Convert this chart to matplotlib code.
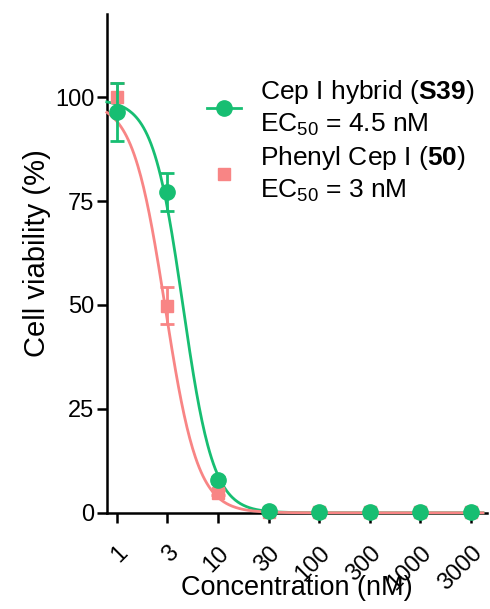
import numpy as np
import matplotlib
matplotlib.use('Agg')
import matplotlib.pyplot as plt
from matplotlib.lines import Line2D

plt.rcParams['font.family'] = ['Liberation Sans', 'DejaVu Sans']
plt.rcParams['mathtext.fontset'] = 'custom'
plt.rcParams['mathtext.rm'] = 'Liberation Sans'
plt.rcParams['mathtext.bf'] = 'Liberation Sans:bold'

# concentrations (nM) as labelled, plotted on half-decade steps
conc_labels = ['1', '3', '10', '30', '100', '300', '1000', '3000']
conc = [1, 3.16, 10, 31.6, 100, 316, 1000, 3162]

hybrid_mean = [96.5, 77.2, 7.9, 0.5, 0.2, 0.1, 0.1, 0.1]
hybrid_err = [7.0, 4.5, 0.8, 0.3, 0.2, 0.1, 0.1, 0.1]
phenyl_mean = [100.0, 49.8, 4.8, 0.3, 0.1, 0.1, 0.1, 0.1]
phenyl_err = [3.5, 4.5, 0.6, 0.2, 0.1, 0.1, 0.1, 0.1]

# fitted dose-response parameters (top, EC50, Hill slope)
hybrid_fit = (99.5, 4.5, 2.9)
phenyl_fit = (99.0, 3.0, 2.7)

green = '#17BE72'
pink = '#F88585'

fig = plt.figure(figsize=(4.9, 6.09), dpi=100)
ax = fig.add_axes([0.218, 0.158, 0.776, 0.819])

xs = np.logspace(-0.1, 3.62, 400)
def hill(x, p):
    top, ec50, h = p
    return top / (1 + (x / ec50) ** h)

ax.plot(xs, hill(xs, hybrid_fit), color=green, lw=2, zorder=3, clip_on=False)
ax.plot(xs, hill(xs, phenyl_fit), color=pink, lw=2, zorder=4, clip_on=False)

ax.errorbar(conc, phenyl_mean, yerr=phenyl_err, fmt='s', color=pink, ms=8.5,
            elinewidth=2, capsize=5, capthick=2, zorder=5, clip_on=False)
ax.errorbar(conc, hybrid_mean, yerr=hybrid_err, fmt='o', color=green, ms=11,
            elinewidth=2, capsize=5, capthick=2, zorder=6, clip_on=False)

ax.set_xscale('log')
ax.set_xlim(10 ** -0.1, 10 ** 3.66)
ax.set_ylim(0, 120)
ax.set_xticks(conc)
ax.set_xticklabels(conc_labels, rotation=45, ha='right', rotation_mode='anchor')
ax.xaxis.set_minor_locator(matplotlib.ticker.NullLocator())
ax.set_yticks([0, 25, 50, 75, 100])
ax.tick_params(labelsize=17, width=1.8, length=7, pad=2)
ax.tick_params(axis='x', pad=14)

for s in ['top', 'right']:
    ax.spines[s].set_visible(False)
for s in ['left', 'bottom']:
    ax.spines[s].set_linewidth(1.8)

ax.set_ylabel('Cell viability (%)', fontsize=21, labelpad=3, y=0.52)
ax.set_xlabel('Concentration (nM)', fontsize=19.5, labelpad=-14)

handles = [
    Line2D([], [], color=green, marker='o', ms=11, lw=2),
    Line2D([], [], color=pink, marker='s', ms=8.5, lw=0),
]
labels = [
    'Cep I hybrid ($\\mathbf{S39}$)\nEC$_{50}$ = 4.5 nM',
    'Phenyl Cep I ($\\mathbf{50}$)\nEC$_{50}$ = 3 nM',
]
leg = ax.legend(handles, labels, loc='upper left', bbox_to_anchor=(0.235, 0.893),
                frameon=False, fontsize=19, handlelength=1.3, handletextpad=0.7,
                labelspacing=0.2, borderaxespad=0)
for t in leg.get_texts():
    t.set_linespacing(1.3)

fig.savefig('out.png', dpi=100)
